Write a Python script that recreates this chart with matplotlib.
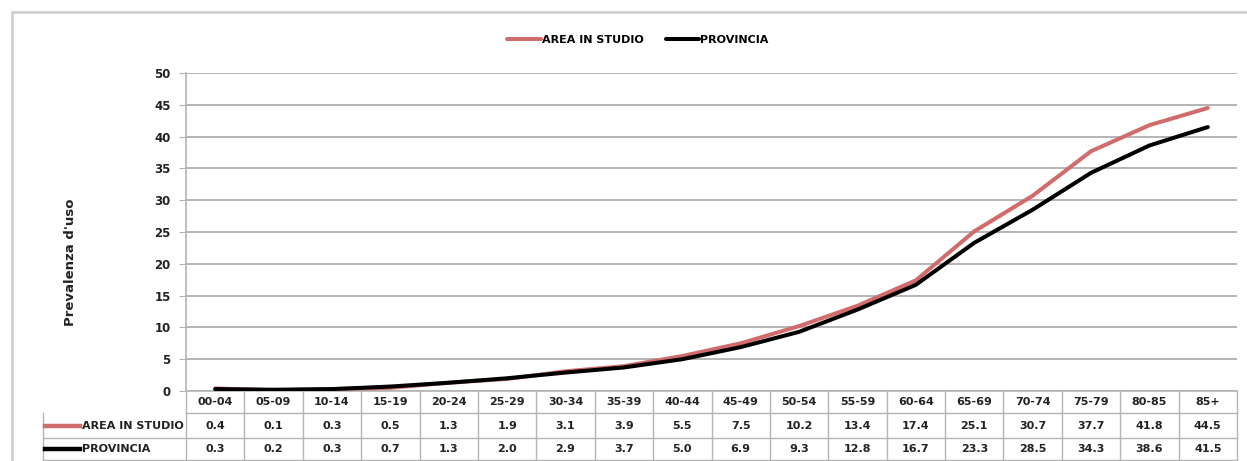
import matplotlib.pyplot as plt
from matplotlib.lines import Line2D
from matplotlib.patches import Rectangle
from matplotlib.transforms import blended_transform_factory

# dati
categorie = ['00-04', '05-09', '10-14', '15-19', '20-24', '25-29', '30-34', '35-39', '40-44',
             '45-49', '50-54', '55-59', '60-64', '65-69', '70-74', '75-79', '80-85', '85+']
area_studio = [0.4, 0.1, 0.3, 0.5, 1.3, 1.9, 3.1, 3.9, 5.5, 7.5, 10.2, 13.4, 17.4, 25.1, 30.7, 37.7, 41.8, 44.5]
provincia = [0.3, 0.2, 0.3, 0.7, 1.3, 2.0, 2.9, 3.7, 5.0, 6.9, 9.3, 12.8, 16.7, 23.3, 28.5, 34.3, 38.6, 41.5]
serie_nomi = ['AREA IN STUDIO', 'PROVINCIA']
y_ticks = [0, 5, 10, 15, 20, 25, 30, 35, 40, 45, 50]

colori = {'AREA IN STUDIO': '#d26b6b', 'PROVINCIA': '#000000'}
grigio = '#b4b4b4'
testo = '#222222'

plt.rcParams['font.family'] = ['DejaVu Sans']
plt.rcParams['font.size'] = 8

W, H = 1247, 461
fig = plt.figure(figsize=(W / 100, H / 100), dpi=100)

# area del grafico (pixel del riferimento)
left, right, top, bottom = 186, 1237, 73, 391
ax = fig.add_axes([left / W, 1 - bottom / H, (right - left) / W, (bottom - top) / H])

x = list(range(len(categorie)))
valori = {'AREA IN STUDIO': area_studio, 'PROVINCIA': provincia}
handles = []
for nome in serie_nomi:
    ln, = ax.plot(x, valori[nome], color=colori[nome], lw=2.9, solid_capstyle='round',
                  label=nome, zorder=3)
    handles.append(ln)

ax.set_xlim(-0.5, len(categorie) - 0.5)
ax.set_ylim(0, 50)
ax.set_yticks(y_ticks)
ax.set_xticks([])
ax.grid(axis='y', color=grigio, lw=1.4)
ax.set_axisbelow(True)
for s in ['top', 'right']:
    ax.spines[s].set_visible(False)
for s in ['left', 'bottom']:
    ax.spines[s].set_color(grigio)
    ax.spines[s].set_linewidth(1.2)
ax.tick_params(axis='y', length=5, color=grigio, pad=6, labelsize=8.5, labelcolor=testo)
for lab in ax.get_yticklabels():
    lab.set_fontweight('bold')

# tabella dati sotto il grafico (righe: intestazione, area, provincia)
ph = bottom - top
righe_px = [391, 413, 438, 460]
ry = [(bottom - p) / ph for p in righe_px]          # bordi riga in coord. assi
tab_x0 = (43 - left) / (right - left)
tr = blended_transform_factory(ax.transData, ax.transAxes)
bordo = dict(color=grigio, lw=1.0, clip_on=False)

for k in range(1, 4):
    x0 = 0 if k == 1 else tab_x0
    ax.add_line(Line2D([x0, 1], [ry[k], ry[k]], transform=ax.transAxes, **bordo))
for j in range(len(categorie) + 1):
    ax.add_line(Line2D([j - 0.5, j - 0.5], [ry[0], ry[3]], transform=tr, **bordo))
ax.add_line(Line2D([tab_x0, tab_x0], [ry[1], ry[3]], transform=ax.transAxes, **bordo))

for j, cat in enumerate(categorie):
    ax.text(j, (ry[0] + ry[1]) / 2, cat, transform=tr, ha='center', va='center',
            fontsize=8, fontweight='bold', color=testo)
for i, nome in enumerate(serie_nomi, start=1):
    yc = (ry[i] + ry[i + 1]) / 2
    for j, v in enumerate(valori[nome]):
        ax.text(j, yc, f'{v:.1f}', transform=tr, ha='center', va='center',
                fontsize=8, fontweight='bold', color=testo)
    # chiave legenda + etichetta
    key_x0 = (45 - left) / (right - left)
    key_x1 = (80 - left) / (right - left)
    ax.add_line(Line2D([key_x0, key_x1], [yc, yc], transform=ax.transAxes, color=colori[nome],
                       lw=3.2, clip_on=False))
    ax.text((82 - left) / (right - left), yc, nome, transform=ax.transAxes, ha='left', va='center',
            fontsize=8, fontweight='bold', color=testo)

# titolo asse y
fig.text(70 / W, 1 - 262 / H, "Prevalenza d'uso", rotation=90, ha='center', va='center',
         fontsize=9.5, fontweight='bold', color=testo)

# legenda in alto
fig.legend(handles=handles, loc='center', bbox_to_anchor=(638 / W, 1 - 40 / H), ncol=2,
           frameon=False, handlelength=3.0, handletextpad=0.1, columnspacing=2.0,
           prop={'size': 8, 'weight': 'bold'})

# cornice del grafico
fig.patches.append(Rectangle((12 / W, -0.05), 1.1, 1 - 12 / H + 0.05, transform=fig.transFigure,
                             fill=False, edgecolor='#cccccc', lw=1.8, zorder=0))

fig.savefig('out.png', dpi=100)
plt.close()
